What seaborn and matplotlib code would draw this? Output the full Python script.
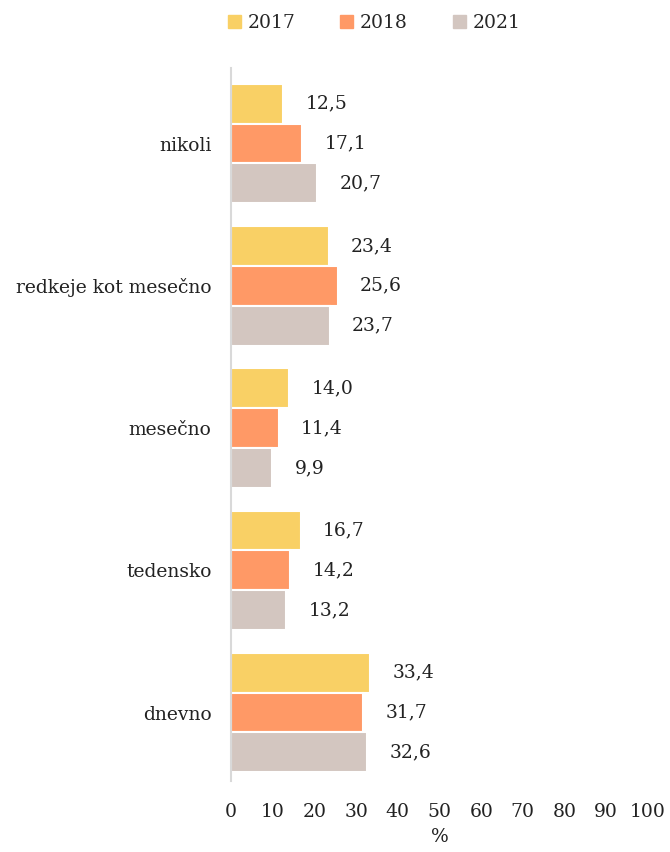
import numpy as np
import pandas as pd
import matplotlib
matplotlib.use("Agg")
import matplotlib.pyplot as plt
import seaborn as sns

# data
categories = ["nikoli", "redkeje kot mesečno", "mesečno", "tedensko", "dnevno"]
years = ["2017", "2018", "2021"]
v2017 = [12.5, 23.4, 14.0, 16.7, 33.4]
v2018 = [17.1, 25.6, 11.4, 14.2, 31.7]
v2021 = [20.7, 23.7, 9.9, 13.2, 32.6]
colors = ["#F9D065", "#FF9966", "#D3C6C0"]
xticks = list(range(0, 101, 10))

df = pd.DataFrame({
    "kategorija": categories * 3,
    "leto": [y for y in years for _ in categories],
    "delež": v2017 + v2018 + v2021,
})

sns.set_style("white")
plt.rcParams["font.family"] = ["DejaVu Serif"]
fs = 13.5

fig = plt.figure(figsize=(6.7, 8.52), dpi=100)
ax = fig.add_axes([0.345, 0.0835, 0.622, 0.8365])

sns.barplot(data=df, y="kategorija", x="delež", hue="leto", order=categories,
            hue_order=years, palette=colors, saturation=1, orient="h", width=0.84,
            edgecolor="white", linewidth=1.5, ax=ax)

# value labels with decimal comma
for cont in ax.containers:
    ax.bar_label(cont, labels=[f"{v:.1f}".replace(".", ",") for v in cont.datavalues],
                 padding=16, fontsize=fs, color="#222222")

ax.set_xlim(0, 100)
ax.set_ylim(4.48, -0.53)
ax.set_xticks(xticks)
ax.set_xticklabels([str(t) for t in xticks])
ax.tick_params(axis="both", length=0, labelsize=fs, colors="#222222")
ax.tick_params(axis="x", pad=16)
ax.tick_params(axis="y", pad=14)
ax.set_ylabel("")
ax.set_xlabel("%", fontsize=fs, color="#222222", labelpad=5)

for s in ["top", "right", "bottom"]:
    ax.spines[s].set_visible(False)
ax.spines["left"].set_color("#D9D9D9")
ax.spines["left"].set_linewidth(1.5)

ax.legend_.remove()
handles = [plt.Rectangle((0, 0), 1, 1, color=c) for c in colors]
fig.legend(handles, years, loc="upper center", bbox_to_anchor=(0.558, 1.003),
           ncol=3, frameon=False, fontsize=fs, handlelength=0.7,
           handleheight=0.7, handletextpad=0.35, columnspacing=2.4)

fig.savefig("out.png", dpi=100)
